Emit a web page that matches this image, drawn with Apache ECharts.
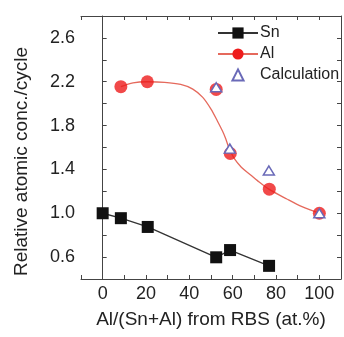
<!DOCTYPE html>
<html>
<head>
<meta charset="utf-8">
<script src="https://cdn.jsdelivr.net/npm/echarts@6/dist/echarts.min.js"></script>
<style>
  html, body { margin: 0; padding: 0; background: #fff; }
  #chart { width: 344px; height: 337px; }
</style>
</head>
<body>
<div id="chart"></div>
<script>
// Sn points (x = Al/(Sn+Al) %, y = relative conc./cycle)
var snX = [0, 8.4, 20.8, 52.4, 58.8, 76.8];
var snY = [1.0, 0.955, 0.875, 0.598, 0.664, 0.52];
// Al points
var alX = [8.4, 20.6, 52.4, 58.9, 76.9, 100];
var alY = [2.155, 2.2, 2.13, 1.545, 1.22, 1.0];
// calculation (open triangles)
var calcX = [52.4, 58.7, 76.7, 100];
var calcY = [2.15, 1.59, 1.39, 1.0];
// fitted curve through Al
var fitX = [8.4, 14, 20.6, 28.6, 36, 41.6, 46.2, 50, 53, 55.3, 56.8, 58.4, 60.7, 64, 68.3, 71.3, 76.7, 85, 92, 100];
var fitY = [2.155, 2.19, 2.2, 2.195, 2.175, 2.133, 2.057, 1.95, 1.84, 1.75, 1.68, 1.59, 1.5, 1.42, 1.35, 1.3, 1.22, 1.13, 1.06, 1.0];

var yLabels = ['0.6', '1.0', '1.4', '1.8', '2.2', '2.6'];
var xLabels = ['0', '20', '40', '60', '80', '100'];

function pairs(xs, ys) {
  return xs.map(function (x, i) { return [x, ys[i]]; });
}

var font = 'Liberation Sans, Arial, sans-serif';
var axisColor = '#444';

var chart = echarts.init(document.getElementById('chart'));
var option = {
  animation: false,
  grid: { left: 81, right: 1, top: 16, bottom: 58 },
  legend: {
    orient: 'vertical',
    left: 212,
    top: 20,
    itemWidth: 40,
    itemHeight: 14,
    itemGap: 5,
    textStyle: { fontFamily: font, fontSize: 16, color: '#222', padding: [0, 0, 0, -3] },
    data: ['Sn', 'Al', 'Calculation']
  },
  xAxis: [{
    type: 'value',
    min: -10, max: 110, interval: 10,
    name: 'Al/(Sn+Al) from RBS (at.%)',
    nameLocation: 'middle',
    nameGap: 31,
    nameTextStyle: { fontFamily: font, fontSize: 19, color: '#222' },
    axisLine: { show: true, lineStyle: { color: axisColor, width: 1 } },
    axisTick: { show: true, inside: true, length: 4, lineStyle: { color: axisColor } },
    axisLabel: {
      fontFamily: font, fontSize: 18, color: '#222', margin: 6,
      formatter: function (v) {
        var s = String(Math.round(v));
        return xLabels.indexOf(s) >= 0 ? s : '';
      }
    },
    splitLine: { show: false }
  }, {
    type: 'value', position: 'top',
    min: -10, max: 110, interval: 10,
    axisLine: { show: true, onZero: false, lineStyle: { color: axisColor, width: 1 } },
    axisTick: { show: true, inside: true, length: 4, lineStyle: { color: axisColor } },
    axisLabel: { show: false },
    splitLine: { show: false }
  }],
  yAxis: [{
    type: 'value',
    min: 0.4, max: 2.8, interval: 0.2,
    name: 'Relative atomic conc./cycle',
    nameLocation: 'middle',
    nameGap: 50,
    nameTextStyle: { fontFamily: font, fontSize: 19, color: '#222', padding: [0, 28, 0, 0] },
    axisLine: { show: true, lineStyle: { color: axisColor, width: 1 } },
    axisTick: { show: true, inside: true, length: 4, lineStyle: { color: axisColor } },
    axisLabel: {
      fontFamily: font, fontSize: 18, color: '#222', margin: 6,
      formatter: function (v) {
        var s = (Math.round(v * 10) / 10).toFixed(1);
        return yLabels.indexOf(s) >= 0 ? s : '';
      }
    },
    splitLine: { show: false }
  }, {
    type: 'value', position: 'right',
    min: 0.4, max: 2.8, interval: 0.2,
    axisLine: { show: true, onZero: false, lineStyle: { color: axisColor, width: 1 } },
    axisTick: { show: true, inside: true, length: 4, lineStyle: { color: axisColor } },
    axisLabel: { show: false },
    splitLine: { show: false }
  }],
  series: [{
    name: 'Sn',
    type: 'line',
    data: pairs(snX, snY),
    symbol: 'rect',
    symbolSize: 12,
    itemStyle: { color: '#111' },
    lineStyle: { color: '#333', width: 1.3 },
    z: 3
  }, {
    name: 'Al',
    type: 'line',
    data: pairs(fitX, fitY),
    smooth: 0.3,
    showSymbol: false,
    symbol: 'circle',
    symbolSize: 13,
    itemStyle: { color: '#ee1c1c' },
    lineStyle: { color: '#e5695c', width: 1.3 },
    z: 2
  }, {
    name: 'Al',
    type: 'scatter',
    data: pairs(alX, alY),
    symbol: 'circle',
    symbolSize: 13,
    itemStyle: { color: '#ee1c1c' },
    z: 3
  }, {
    // a line series with its line hidden, so the legend icon keeps a small triangle
    name: 'Calculation',
    type: 'line',
    data: pairs(calcX, calcY),
    symbol: 'triangle',
    symbolSize: [11, 9],
    showAllSymbol: true,
    itemStyle: { color: '#fff', borderColor: '#6a6ab8', borderWidth: 1.5 },
    lineStyle: { opacity: 0 },
    z: 4
  }]
};
chart.setOption(option);
</script>
</body>
</html>
